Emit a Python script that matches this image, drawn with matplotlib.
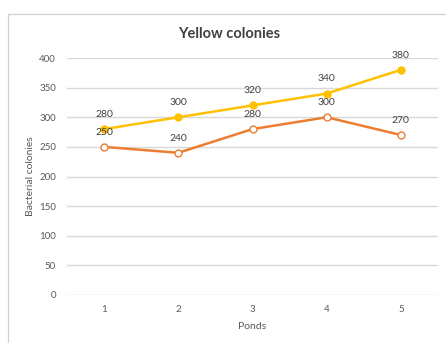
import matplotlib.pyplot as plt
from matplotlib.patches import Rectangle

ponds = [1, 2, 3, 4, 5]
yellow = [280, 300, 320, 340, 380]
orange = [250, 240, 280, 300, 270]
yticks = [0, 50, 100, 150, 200, 250, 300, 350, 400]

plt.rcParams['font.family'] = ['Lato', 'DejaVu Sans']

W, H = 446, 343
fig = plt.figure(figsize=(W / 100, H / 100), dpi=100)

# chart border
fig.patches.append(Rectangle((8 / W, -0.1), 1.2, (H - 14) / H + 0.1,
                             transform=fig.transFigure, fill=False,
                             edgecolor='#d0d0d0', lw=0.9))

ax = fig.add_axes([67 / W, (H - 295) / H, (438 - 67) / W, (295 - 58) / H])
ax.set_xlim(0.5, 5.5)
ax.set_ylim(0, 400)
ax.set_yticks(yticks)
ax.set_xticks(ponds)
ax.grid(axis='y', color='#d9d9d9', lw=1)
ax.set_axisbelow(True)
for s in ax.spines.values():
    s.set_visible(False)
ax.tick_params(length=0, labelsize=7, colors='#595959', pad=8)
ax.tick_params(axis='x', pad=7)

ax.plot(ponds, yellow, color='#FFC000', lw=1.8, marker='o', ms=5,
        mfc='#FFC000', mec='#FFC000', zorder=3)
ax.plot(ponds, orange, color='#ED7D31', lw=1.8, marker='o', ms=5,
        mfc='white', mec='#ED7D31', mew=1, zorder=3)

for x, y in zip(ponds, yellow):
    ax.annotate(str(y), (x, y), xytext=(0, 10.5), textcoords='offset points',
                ha='center', va='center', fontsize=7.5, color='#404040')
for x, y in zip(ponds, orange):
    ax.annotate(str(y), (x, y), xytext=(0, 10.5), textcoords='offset points',
                ha='center', va='center', fontsize=7.5, color='#404040')

ax.set_xlabel('Ponds', fontsize=7.5, color='#595959', labelpad=6)
ax.set_ylabel('Bacterial colonies', fontsize=7.5, color='#595959', labelpad=3)

fig.text(229 / W, 1 - 34 / H, 'Yellow colonies', ha='center', va='center',
         fontsize=10.5, fontweight='bold', color='#404040')

fig.savefig('out.png', dpi=100)
